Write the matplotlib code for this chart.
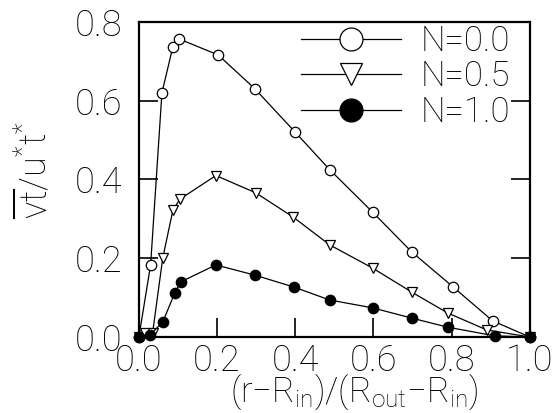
"""Profile of vt/u*t* across the annular gap for three N values."""

import matplotlib

matplotlib.use("Agg")
import matplotlib.pyplot as plt
from matplotlib import font_manager as fm


def light_family(base: str = "Roboto") -> str:
    """Register the light face of `base` under its own name so every lookup hits the same file."""
    path = fm.findfont(fm.FontProperties(family=base, weight="light"), fallback_to_default=False)
    for entry in fm.fontManager.ttflist:
        name = entry.name.lower()
        if base.lower() in name and "light" in name and "italic" not in name:
            path = entry.fname
            break
    fm.fontManager.ttflist.append(
        fm.FontEntry(fname=path, name=base + "LightOnly", style="normal",
                     variant="normal", weight=400, stretch="normal", size="scalable")
    )
    return base + "LightOnly"


FONT = light_family()
plt.rcParams["font.family"] = [FONT, "DejaVu Sans"]
plt.rcParams["mathtext.fontset"] = "custom"
plt.rcParams["mathtext.rm"] = FONT
plt.rcParams["mathtext.it"] = FONT

# N = 0.0 (open circles)
x_n00 = [0.0, 0.03, 0.059, 0.087, 0.102, 0.203, 0.297, 0.399, 0.488, 0.598, 0.698, 0.804, 0.905, 1.0]
y_n00 = [0.0, 0.183, 0.62, 0.737, 0.757, 0.716, 0.630, 0.521, 0.425, 0.317, 0.216, 0.127, 0.041, 0.0]

# N = 0.5 (open down triangles)
x_n05 = [0.0, 0.015, 0.035, 0.061, 0.087, 0.105, 0.197, 0.299, 0.394, 0.488, 0.598, 0.698, 0.79, 0.89, 1.0]
y_n05 = [0.0, 0.01, 0.01, 0.2, 0.322, 0.35, 0.41, 0.366, 0.305, 0.234, 0.175, 0.114, 0.061, 0.018, 0.0]

# N = 1.0 (filled circles)
x_n10 = [0.0, 0.028, 0.061, 0.092, 0.107, 0.197, 0.297, 0.396, 0.488, 0.598, 0.698, 0.79, 0.91, 1.0]
y_n10 = [0.0, 0.005, 0.038, 0.112, 0.14, 0.183, 0.157, 0.127, 0.094, 0.074, 0.048, 0.025, 0.003, 0.0]

x_ticks = [0.0, 0.2, 0.4, 0.6, 0.8, 1.0]
y_ticks = [0.0, 0.2, 0.4, 0.6, 0.8]

fig = plt.figure(figsize=(5.6, 4.13), dpi=100)
ax = fig.add_axes([0.248, 0.184, 0.698, 0.763])

common = dict(color="black", linewidth=0.9, markersize=7.5, markeredgewidth=0.9, clip_on=False)
ax.plot(x_n00, y_n00, marker="o", markerfacecolor="white", label="N=0.0", **common)
ax.plot(x_n05, y_n05, marker="v", markerfacecolor="white", label="N=0.5", **common)
ax.plot(x_n10, y_n10, marker="o", markerfacecolor="black", label="N=1.0", **common)

ax.set_xlim(0.0, 1.0)
ax.set_ylim(0.0, 0.8)
ax.set_xticks(x_ticks)
ax.set_yticks(y_ticks)
ax.set_xticklabels([f"{v:.1f}" for v in x_ticks])
ax.set_yticklabels([f"{v:.1f}" for v in y_ticks])
ax.tick_params(direction="in", length=14, width=1.2, labelsize=26,
               right=True, top=False)
ax.tick_params(axis="x", pad=4)
ax.tick_params(axis="y", pad=12)
for spine in ax.spines.values():
    spine.set_linewidth(1.6)

ax.set_xlabel(r"(r$-$R$_{\mathrm{in}}$)/(R$_{\mathrm{out}}$$-$R$_{\mathrm{in}}$)", fontsize=25)
ax.xaxis.set_label_coords(0.55, -0.115)
ax.xaxis.label.set_va("top")
ax.set_ylabel(r"$\overline{\mathrm{vt}}/\mathrm{u}^{*}\mathrm{t}^{*}$", fontsize=26)
ax.yaxis.set_label_coords(-0.215, 0.53)

ax.legend(loc="upper right", frameon=False, fontsize=25, markerscale=2.2,
          handlelength=2.9, handletextpad=0.55, labelspacing=0.05,
          borderaxespad=0.0, bbox_to_anchor=(0.985, 1.035))

fig.savefig("out.png", dpi=100)
